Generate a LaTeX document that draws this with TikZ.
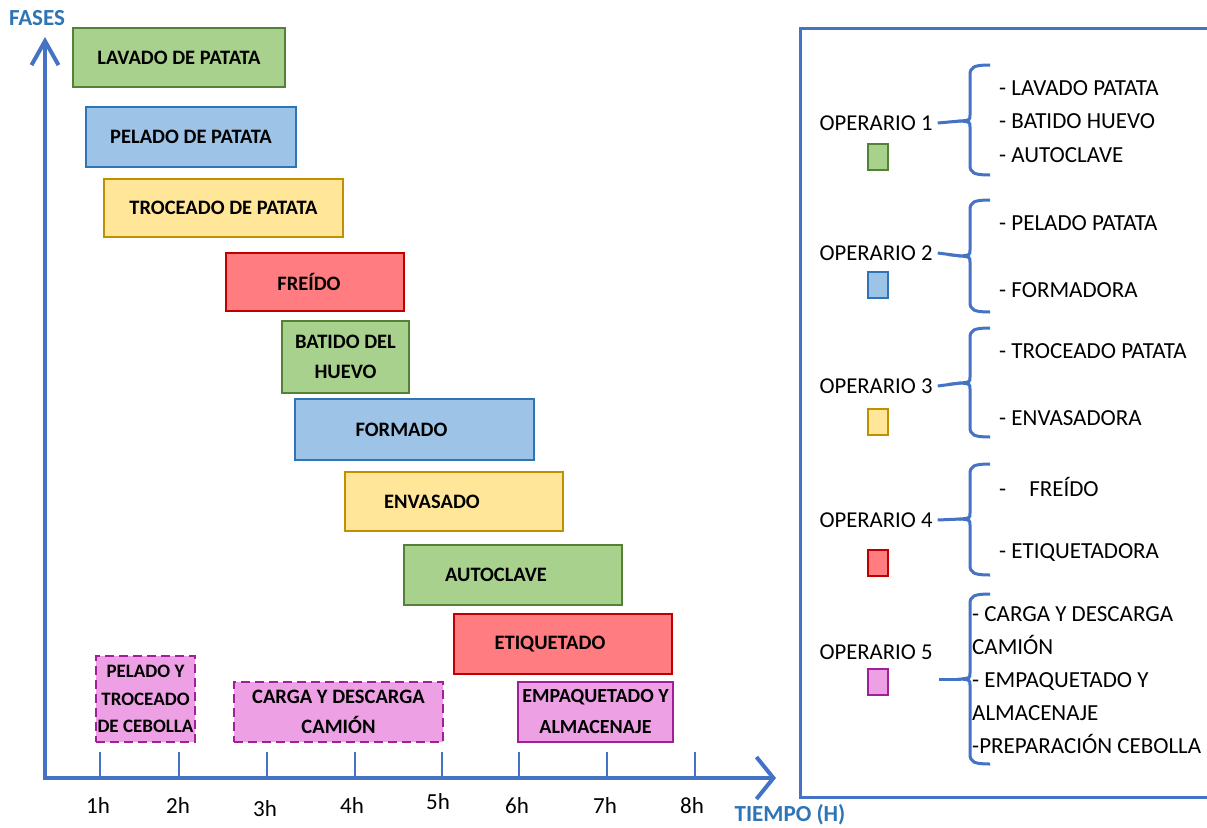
\documentclass[tikz,border=0pt]{standalone}
\usepackage{fontspec}
\setmainfont{Carlito}
\usetikzlibrary{arrows.meta}
\definecolor{ejeazul}{HTML}{4472C4}
\definecolor{rotazul}{HTML}{2E75B6}
\definecolor{verdeF}{HTML}{A9D18E}
\definecolor{verdeB}{HTML}{548235}
\definecolor{azulF}{HTML}{9DC3E6}
\definecolor{azulB}{HTML}{2E75B6}
\definecolor{amarF}{HTML}{FFE699}
\definecolor{amarB}{HTML}{BF9000}
\definecolor{rojoF}{HTML}{FF7C80}
\definecolor{rojoB}{HTML}{C00000}
\definecolor{rosaF}{HTML}{EDA0E3}
\definecolor{rosaB}{HTML}{A0209A}
\tikzset{
    fase/.style={draw, line width=2.8pt, inner sep=0pt, align=center, text=black,
        font=\bfseries\fontsize{20.5}{30}\selectfont},
    tam/.style 2 args={minimum width=#1pt, minimum height=#2pt},
    verde/.style={fill=verdeF, draw=verdeB},
    azul/.style={fill=azulF, draw=azulB},
    amarillo/.style={fill=amarF, draw=amarB},
    rojo/.style={fill=rojoF, draw=rojoB},
    rosa/.style={fill=rosaF, draw=rosaB},
    punteado/.style={dash pattern=on 9pt off 5pt},
    eje/.style={draw=ejeazul, line width=4pt},
    marca/.style={draw=ejeazul, line width=1.3pt},
    rotulo/.style={text=rotazul, font=\bfseries\fontsize{23}{27}\selectfont},
    hora/.style={font=\fontsize{23}{27}\selectfont},
    oper/.style={font=\fontsize{22.7}{27}\selectfont, inner xsep=5pt},
    lista/.style={anchor=west, inner xsep=0pt, font=\fontsize{23}{33}\selectfont, align=left},
    cuadro/.style={draw, line width=2.8pt, minimum width=20pt, minimum height=26pt, inner sep=0pt},
    llave/.style={draw=ejeazul, line width=3pt}
}
\begin{document}
\begin{tikzpicture}[x=1pt, y=-1pt]
    \fill[white] (0,0) rectangle (1207,827);
    \useasboundingbox (0,0) rectangle (1207,827);
    % ejes
    \coordinate (origen) at (45,780);
    \coordinate (ytope) at (45,37);
    \coordinate (xtope) at (776,778);
    \draw[eje, -{Straight Barb[length=24pt,width=27pt]}] (origen) -- (ytope);
    \draw[eje, -{Straight Barb[length=17pt,width=42pt]}] (43,778) -- (xtope);
    \node[rotulo] (fases) at (37,18) {FASES};
    \node[rotulo] (tiempo) at (790,815) {TIEMPO (H)};
    \foreach \x/\lx/\ly/\h in {100/98/806/1, 179/178/806/2, 267/265/809/3, 355/352/806/4,
                              442/438/802/5, 519/517/806/6, 607/605/806/7, 695/692/806/8}{
        \draw[marca] (\x,752) -- (\x,778);
        \node[hora] (h\h) at (\lx,\ly) {\h h};
    }
    % fases
    \node[fase, verde, tam={212}{59}] (lavado) at (179,57.5) {LAVADO DE PATATA};
    \node[fase, azul, tam={210}{60}] (pelado) at (191,137) {PELADO DE PATATA};
    \node[fase, amarillo, tam={239}{58}] (troceado) at (223.5,208) {TROCEADO DE PATATA};
    \node[fase, rojo, tam={178}{58}] (freido) at (315,282) {FREÍDO\hspace*{12pt}};
    \node[fase, verde, tam={127}{72}] (batido) at (345.5,357) {BATIDO DEL\\HUEVO};
    \node[fase, azul, tam={239}{61}] (formado) at (414.5,429.5) {FORMADO\hspace*{26pt}};
    \node[fase, amarillo, tam={218}{59}] (envasado) at (454,501.5) {ENVASADO\hspace*{44pt}};
    \node[fase, verde, tam={218}{60}] (autoclave) at (513,575) {AUTOCLAVE\hspace*{34pt}};
    \node[fase, rojo, tam={218}{60}] (etiquetado) at (563,644) {ETIQUETADO\hspace*{26pt}};
    \node[fase, rosa, punteado, tam={99}{86}, font=\bfseries\fontsize{19}{27.5}\selectfont]
        (cebolla) at (145.5,699) {PELADO Y\\TROCEADO\\DE CEBOLLA};
    \node[fase, rosa, punteado, tam={209}{60}] (camion) at (338.5,712) {CARGA Y DESCARGA\\CAMIÓN};
    \node[fase, rosa, tam={155}{60}, font=\bfseries\fontsize{20}{31}\selectfont]
        (empaquetado) at (595.5,712) {EMPAQUETADO Y\\ALMACENAJE};
    % leyenda
    \draw[draw=ejeazul, line width=3pt] (1215,28) -- (800,28) -- (800,797) -- (1215,797);
    \foreach \n/\y/\sy/\c in {1/123/157/verde, 2/253/285/azul, 3/386/422/amarillo,
                              4/520/563/rojo, 5/652/682/rosa}{
        \node[oper] (op\n) at (876,\y) {OPERARIO \n};
        \node[cuadro, \c] (sq\n) at (878,\sy) {};
    }
    \coordinate (tallo5) at (939,679);
    \foreach \n/\t/\m/\b in {1/65/121/175, 2/200/256/312, 3/328/383/437, 4/464/519/575, 5/594/679/764}{
        \coordinate (punta\n) at (961,\m);
        \draw[llave] (990,\t) .. controls (974,\t) and (970,\t+2) .. (970,\t+10)
            -- (970,\m-6) .. controls (970,\m-1) .. (punta\n)
            .. controls (970,\m+1) .. (970,\m+6)
            -- (970,\b-10) .. controls (970,\b-2) and (974,\b) .. (990,\b);
    }
    \foreach \n in {1,2,3,4}{
        \draw[llave] (op\n.east) -- (punta\n);
    }
    \draw[llave] (tallo5) -- (punta5);
    \node[lista] (l1a) at (999,88) {- LAVADO PATATA};
    \node[lista] (l1b) at (999,121) {- BATIDO HUEVO};
    \node[lista] (l1c) at (999,155) {- AUTOCLAVE};
    \node[lista] (l2a) at (999,223) {- PELADO PATATA};
    \node[lista] (l2b) at (999,290) {- FORMADORA};
    \node[lista] (l3a) at (999,351) {- TROCEADO PATATA};
    \node[lista] (l3b) at (999,418) {- ENVASADORA};
    \node[lista] (l4a) at (999,487) {-\hspace{23pt}FREÍDO};
    \node[lista] (l4b) at (999,553) {- ETIQUETADORA};
    \node[lista] (l5) at (972,680) {- CARGA Y DESCARGA\\CAMIÓN\\- EMPAQUETADO Y\\ALMACENAJE\\-PREPARACIÓN CEBOLLA};
\end{tikzpicture}
\end{document}
